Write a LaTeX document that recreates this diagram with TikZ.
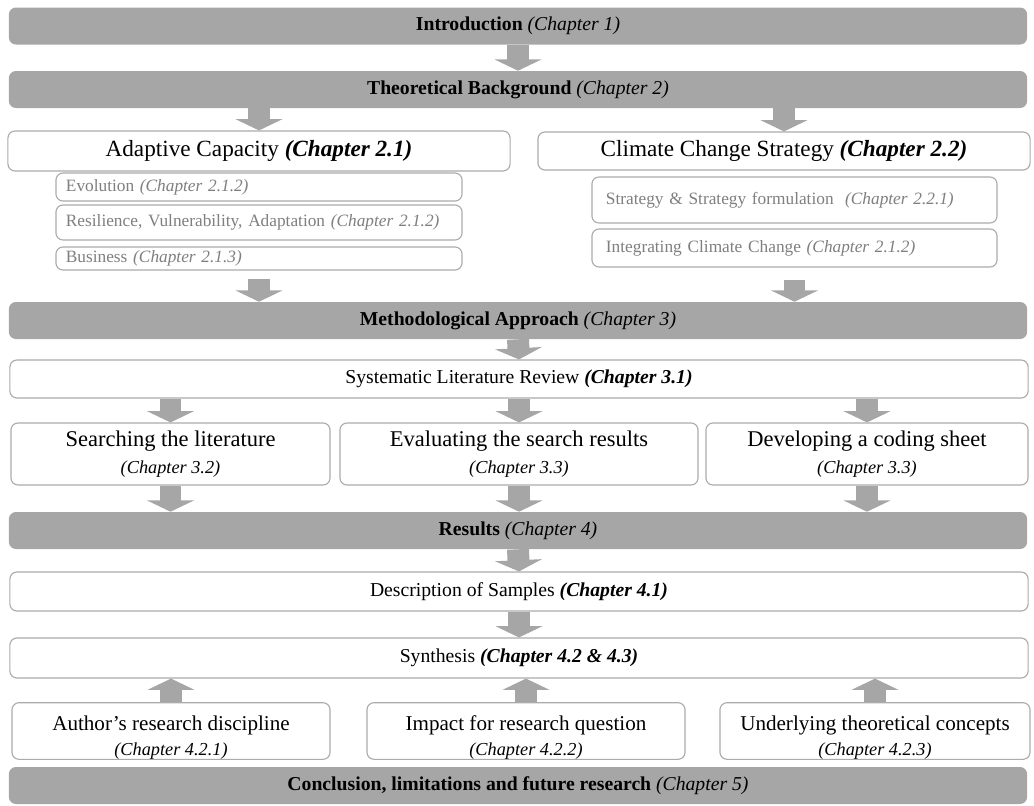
\documentclass[tikz,border=0pt]{standalone}
\usepackage{fontspec}
\setmainfont{Liberation Serif}
\usetikzlibrary{arrows.meta,positioning}
\definecolor{barfill}{HTML}{A6A6A6}
\definecolor{boxline}{HTML}{ABABAB}
\definecolor{subtext}{HTML}{7F7F7F}
\tikzset{
  bar/.style={fill=barfill,draw=none,rounded corners=5pt,minimum width=25.45cm,minimum height=0.925cm,inner sep=0pt,font=\fontsize{14}{16}\selectfont},
  wbox/.style={draw=boxline,fill=white,line width=0.8pt,rounded corners=5pt,inner sep=0pt,align=center,font=\fontsize{14}{16}\selectfont},
  bigbox/.style={wbox,font=\fontsize{16.5}{19}\selectfont},
  twobox/.style={wbox,font=\fontsize{16}{19}\selectfont},
  lowbox/.style={wbox,font=\fontsize{15}{17.5}\selectfont,minimum height=1.4cm},
  subbox/.style={wbox,text=subtext,align=left,font=\fontsize{12.3}{14}\selectfont},
  barr/.style={draw=barfill,line width=15.6pt,-{Triangle[width=33pt,length=8pt]}}
}
\newcommand{\chp}[1]{\textbf{\textit{#1}}}
\newcommand{\chpline}[1]{{\fontsize{13}{15}\selectfont\textit{#1}}}
\begin{document}
\begin{tikzpicture}[x=0.025cm,y=-0.025cm]
  \useasboundingbox (0,0) rectangle (1034,805);
  % Main bars
  \node[bar] (intro) at (518,26) {\textbf{Introduction} \textit{(Chapter 1)}};
  \node[bar] (theo) at (518,89.5) {\textbf{Theoretical Background} \textit{(Chapter 2)}};

  % Theoretical background parts
  \node[bigbox, minimum width=12.55cm, minimum height=1.0cm] (ac) at (259,151) {Adaptive Capacity \chp{(Chapter 2.1)}};
  \node[bigbox, minimum width=12.3cm, minimum height=0.95cm] (ccs) at (784,151) {Climate Change Strategy \chp{(Chapter 2.2)}};

  \node[subbox, minimum width=10.15cm, minimum height=0.7cm, inner xsep=0.25cm, text width=9.65cm] (evo) at (259,187) {Evolution \textit{(Chapter 2.1.2)}};
  \node[subbox, minimum width=10.15cm, minimum height=0.875cm, inner xsep=0.25cm, text width=9.65cm] (res) at (259,222.5) {Resilience, Vulnerability, Adaptation \textit{(Chapter 2.1.2)}};
  \node[subbox, minimum width=10.15cm, minimum height=0.575cm, inner xsep=0.25cm, text width=9.65cm] (bus) at (259,258.5) {Business \textit{(Chapter 2.1.3)}};

  \node[subbox, minimum width=10.125cm, minimum height=1.15cm, inner xsep=0.35cm, text width=9.425cm] (strat) at (794.5,200) {Strategy \& Strategy formulation \ \textit{(Chapter 2.2.1)}};
  \node[subbox, minimum width=10.125cm, minimum height=0.95cm, inner xsep=0.35cm, text width=9.425cm] (integ) at (794.5,248) {Integrating Climate Change \textit{(Chapter 2.1.2)}};

  % Methodology
  \node[bar] (meth) at (518,320.5) {\textbf{Methodological Approach} \textit{(Chapter 3)}};
  \node[wbox, minimum width=25.45cm, minimum height=0.95cm] (slr) at (519,379) {Systematic Literature Review \chp{(Chapter 3.1)}};

  \node[twobox, minimum width=7.975cm, minimum height=1.55cm] (search) at (170.5,454) {Searching the literature\\\chpline{(Chapter 3.2)}};
  \node[twobox, minimum width=8.95cm, minimum height=1.55cm] (eval) at (519,454) {Evaluating the search results\\\chpline{(Chapter 3.3)}};
  \node[twobox, minimum width=8.05cm, minimum height=1.55cm] (dev) at (867,454) {Developing a coding sheet\\\chpline{(Chapter 3.3)}};

  % Results
  \node[bar] (results) at (518,530.5) {\textbf{Results} \textit{(Chapter 4)}};
  \node[wbox, minimum width=25.45cm, minimum height=0.975cm] (desc) at (519,591.5) {Description of Samples \chp{(Chapter 4.1)}};
  \node[wbox, minimum width=25.45cm, minimum height=1.0cm] (synth) at (519,658) {Synthesis \chp{(Chapter 4.2 \& 4.3)}};

  \node[lowbox, minimum width=7.95cm] (author) at (171,731) {\rule{0pt}{20pt}Author’s research discipline\\\chpline{(Chapter 4.2.1)}};
  \node[lowbox, minimum width=7.95cm] (impact) at (526,731) {\rule{0pt}{20pt}Impact for research question\\\chpline{(Chapter 4.2.2)}};
  \node[lowbox, minimum width=7.75cm] (under) at (875,731) {\rule{0pt}{20pt}Underlying theoretical concepts\\\chpline{(Chapter 4.2.3)}};

  \node[bar] (concl) at (518,785.5) {\textbf{Conclusion, limitations and future research} \textit{(Chapter 5)}};

  % Block arrows
  \draw[barr] (intro.south) -- (theo.north);
  \draw[barr] (theo.south -| ac.north) -- (ac.north);
  \draw[barr] (theo.south -| ccs.north) -- (ccs.north);
  \draw[barr, shorten <=5.7pt] (bus.south) -- (bus.south |- meth.north);
  \draw[barr, shorten <=9pt] (integ.south) -- (integ.south |- meth.north);
  \draw[barr] (meth.south) -- (slr.north);
  \foreach \b in {search,eval,dev} {
    \draw[barr] (slr.south -| \b.north) -- (\b.north);
    \draw[barr] (\b.south) -- (\b.south |- results.north);
  }
  \draw[barr] (results.south) -- (desc.north);
  \draw[barr] (desc.south) -- (synth.north);
  \foreach \b in {author,impact,under}
    \draw[barr] (\b.north) -- (\b.north |- synth.south);
\end{tikzpicture}
\end{document}
